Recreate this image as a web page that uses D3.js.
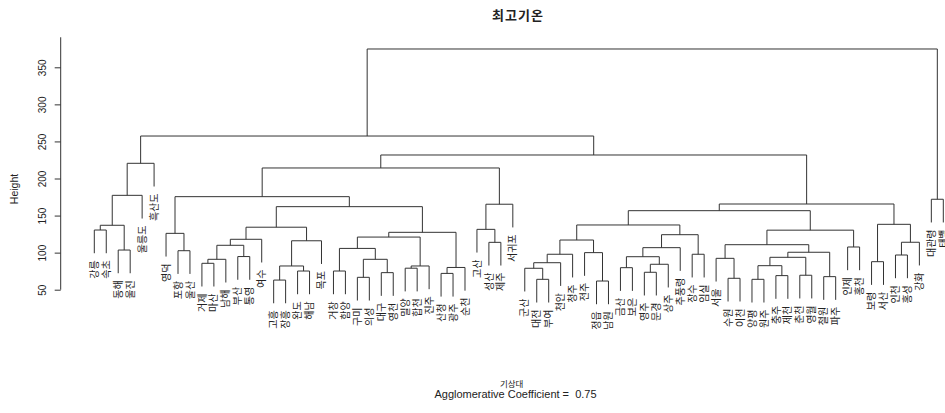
<!DOCTYPE html>
<html><head><meta charset="utf-8">
<script src="https://cdn.jsdelivr.net/npm/d3@7"></script>
<style>
html,body{margin:0;padding:0;background:#fff;}
svg{display:block;}
text{font-family:"Liberation Sans","Noto Sans CJK KR",sans-serif;fill:#222;}
.kr{font-family:"Noto Sans CJK KR","Liberation Sans",sans-serif;}
</style></head><body>
<svg id="chart" width="945" height="413"></svg>
<script>
// ---- data ----
const title = "최고기온";
const xTitle = "기상대";
const subTitle = "Agglomerative Coefficient =  0.75";
const yTitle = "Height";
const yTicks = [50, 100, 150, 200, 250, 300, 350];
const axisTopValue = 390.5;

// leaf labels in dendrogram order
const labels = ["강릉","속초","동해","울진","울릉도","흑산도","영덕","포항","울산","거제",
  "마산","남해","부산","통영","여수","고흥","장흥","완도","해남","목포",
  "거창","함양","구미","의성","대구","영천","밀양","합천","진주","산청",
  "광주","순천","고산","성산","제주","서귀포","군산","대전","부여","천안",
  "청주","전주","정읍","남원","금산","보은","영주","문경","상주","추풍령",
  "장수","임실","서울","수원","이천","양평","원주","충주","제천","춘천",
  "영월","철원","파주","인제","홍천","보령","서산","인천","홍성","강화",
  "대관령","태백"];

// R-style merge table: negative = leaf (-1 is first leaf), positive = earlier merge row (1-based)
const mergeLeft  = [-1,-3, 1, 3, 4,-8,-7,-10, 8,-13, 9,11,-16,-18,13,15,12,-21,-23,-25,19,18,-27,23,22,-30,26,25,17, 7,-34,-33,32,30,-38,-37,36,37,-43,-42,38,-45,-47,43,42,45,-51,46,41,-54,-53,-56,-58,52,-60,54,-62,56,51,-64,59,49,-66,-68,64,63,62,34, 5,-71,69];
const mergeRight = [-2,-4, 2,-5,-6,-9, 6,-11,-12,-14,10,-15,-17,-19,14,-20,16,-22,-24,-26,20,21,-28,-29,24,-31,-32,27,28,29,-35,31,-36,33,-39,35,-40,-41,-44,39,40,-46,-48,-49,44,-50,-52,47,48,-55,50,-57,-59,53,-61,55,-63,57,58,-65,60,61,-67,-69,-70,65,66,67,68,-72,70];
const mergeHeight = [130.5,103.5,136.9,177.3,220.5,102.6,126,85.6,91,94.7,109.9,118,63,75.2,82,116,134.3,75.2,66.7,73,91,105.7,79,82,121,72,80,127.4,162,175.5,113.9,131.4,165.3,214.2,64,78.9,86.4,97.8,61.7,100,117,79.7,73.5,84.3,94.5,106.7,97.8,124.2,137.3,65.4,92.3,64,69,82.4,69.5,93.7,67.6,100.5,110.7,107.6,130.3,156.6,87.8,96.8,114,138.2,165.6,231.7,257.3,172,374.7];

// ---- layout ----
const svg = d3.select("#chart");
const x = d3.scalePoint().domain(labels).range([94.3, 943.3]);
const y = d3.scaleLinear().domain([50, 350]).range([289.7, 67.3]);
const hang = 0.1 * (d3.max(mergeHeight) - d3.min(mergeHeight));

const nodes = [];
const leafBottom = new Array(labels.length);
function ref(r, h) {
  if (r < 0) {
    const i = -r - 1;
    leafBottom[i] = h - hang;
    return {x: x(labels[i]), top: h - hang};
  }
  const n = nodes[r - 1];
  return {x: n.x, top: n.h};
}
mergeHeight.forEach((h, i) => {
  const a = ref(mergeLeft[i], h), b = ref(mergeRight[i], h);
  nodes.push({x: (a.x + b.x) / 2, h, a, b});
});

// dendrogram segments
svg.append("g").attr("fill", "none").attr("stroke", "#333").attr("stroke-width", 1)
  .selectAll("path").data(nodes).join("path")
  .attr("d", n => `M${n.a.x},${y(n.a.top)}V${y(n.h)}H${n.b.x}V${y(n.b.top)}`);

// leaf labels
svg.append("g").selectAll("text").data(labels).join("text")
  .attr("class", "kr")
  .attr("font-size", 10)
  .attr("fill", "#333")
  .attr("text-anchor", "end")
  .attr("dy", "0.36em")
  .attr("transform", (d, i) => `translate(${x(d)},${y(leafBottom[i]) + 7}) rotate(-90)`)
  .text(d => d);

// y axis
const ax = svg.append("g").attr("transform", "translate(60.7,0)")
  .call(d3.axisLeft(y).tickValues(yTicks).tickSize(6).tickFormat(d3.format("d")));
ax.select(".domain").remove();
ax.selectAll(".tick line").attr("stroke", "#333");
ax.selectAll(".tick text")
  .attr("font-size", 10).attr("fill", "#333")
  .attr("font-family", "Liberation Sans, sans-serif")
  .attr("x", null).attr("dy", null)
  .attr("text-anchor", "middle")
  .attr("transform", "translate(-14.5,0) rotate(-90)");
ax.append("line").attr("x1", 0).attr("x2", 0)
  .attr("y1", y(yTicks[0])).attr("y2", y(axisTopValue)).attr("stroke", "#333");

// titles
svg.append("text").attr("class", "kr").attr("x", 518).attr("y", 19.5)
  .attr("text-anchor", "middle").attr("font-size", 13).attr("font-weight", "bold")
  .attr("letter-spacing", 1).text(title);
svg.append("text").attr("transform", "translate(18,189) rotate(-90)")
  .attr("text-anchor", "middle").attr("font-size", 10.5).attr("fill", "#333").text(yTitle);
svg.append("text").attr("class", "kr").attr("x", 511.7).attr("y", 386.5)
  .attr("text-anchor", "middle").attr("font-size", 8.5).attr("fill", "#333").text(xTitle);
svg.append("text").attr("x", 515.5).attr("y", 398)
  .attr("text-anchor", "middle").attr("font-size", 11).attr("fill", "#222")
  .attr("xml:space", "preserve").style("white-space", "pre").text(subTitle);
</script>
</body></html>
